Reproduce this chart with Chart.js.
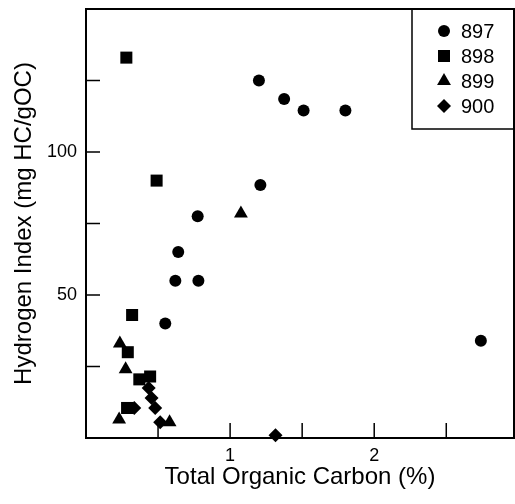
<!DOCTYPE html>
<html>
<head>
<meta charset="utf-8">
<script src="https://cdn.jsdelivr.net/npm/chart.js@4"></script>
<style>
  html, body { margin: 0; padding: 0; background: #fff; }
  #wrap { width: 515px; height: 504px; }
</style>
</head>
<body>
<div id="wrap"><canvas id="myChart" width="515" height="504"></canvas></div>
<script>
// Total Organic Carbon (%) and Hydrogen Index per site
const toc897 = [1.20, 1.375, 1.51, 1.80, 1.21, 0.775, 0.64, 0.62, 0.78, 0.55, 2.74]
const hi897 = [125, 118.5, 114.5, 114.5, 88.5, 77.5, 65, 55, 55, 40, 34]

const toc898 = [0.28, 0.49, 0.32, 0.29, 0.37, 0.445, 0.285]
const hi898 = [133, 90, 43, 30, 20.5, 21.5, 10.5]

const toc899 = [0.235, 0.275, 0.23, 0.58, 1.075]
const hi899 = [33, 24, 6.5, 5.5, 78.5]

const toc900 = [0.335, 0.435, 0.455, 0.48, 0.515, 1.315]
const hi900 = [10.5, 17.5, 14, 10.5, 5.5, 1]

const xTickLabels = [1, 2]
const yTickLabels = [50, 100]

const FONT = '"Liberation Sans", Arial, Helvetica, sans-serif'

function pts(xs, ys) {
  return xs.map((x, i) => ({ x: x, y: ys[i] }))
}

const data = {
  datasets: [
    { label: '897', data: pts(toc897, hi897), pointStyle: 'circle', pointRadius: 6 },
    { label: '898', data: pts(toc898, hi898), pointStyle: 'rect', pointRadius: 8.5 },
    { label: '899', data: pts(toc899, hi899), pointStyle: 'triangle', pointRadius: 8 },
    { label: '900', data: pts(toc900, hi900), pointStyle: 'rectRot', pointRadius: 7 },
  ].map(d => Object.assign(d, {
    backgroundColor: '#000',
    borderColor: '#000',
    borderWidth: 0,
    pointHoverRadius: d.pointRadius,
    clip: false,
  })),
}

// no extra room for edge labels, the frame sits where the padding says
function noPad(s) {
  s.paddingTop = 0
  s.paddingBottom = 0
  s.paddingLeft = 0
  s.paddingRight = 0
}

// inward tick marks + frame
const framePlugin = {
  id: 'frame',
  afterDatasetsDraw(chart) {
    const { ctx, chartArea: a, scales } = chart
    ctx.save()
    ctx.strokeStyle = '#000'
    ctx.lineWidth = 1.5
    ctx.beginPath()
    scales.x.ticks.forEach(t => {
      if (t.value <= 0) return
      const px = scales.x.getPixelForValue(t.value)
      ctx.moveTo(px, a.bottom)
      ctx.lineTo(px, a.bottom - 15)
    })
    scales.y.ticks.forEach(t => {
      if (t.value <= 0) return
      const py = scales.y.getPixelForValue(t.value)
      ctx.moveTo(a.left, py)
      ctx.lineTo(a.left + 14, py)
    })
    ctx.stroke()
    ctx.lineWidth = 2
    ctx.strokeRect(a.left, a.top, a.right - a.left, a.bottom - a.top)
    ctx.restore()
  },
}

// boxed legend in the top right corner
const legendBox = {
  id: 'legendBox',
  afterDraw(chart) {
    const { ctx, chartArea: a } = chart
    const left = a.right - 102
    const bottom = a.top + 120
    ctx.save()
    ctx.fillStyle = '#fff'
    ctx.fillRect(left, a.top, a.right - left, bottom - a.top)
    ctx.strokeStyle = '#000'
    ctx.lineWidth = 1.5
    ctx.strokeRect(left, a.top, a.right - left, bottom - a.top)
    ctx.lineWidth = 2
    ctx.beginPath()
    ctx.moveTo(left, a.top)
    ctx.lineTo(a.right, a.top)
    ctx.lineTo(a.right, bottom)
    ctx.stroke()
    ctx.font = '20px ' + FONT
    ctx.textBaseline = 'middle'
    ctx.textAlign = 'left'
    chart.data.datasets.forEach((ds, i) => {
      const y = a.top + 22 + i * 25
      ctx.fillStyle = '#000'
      Chart.helpers.drawPoint(ctx, {
        pointStyle: ds.pointStyle,
        radius: ds.pointRadius,
        rotation: 0,
        borderWidth: 0,
      }, left + 32, y)
      ctx.fillText(ds.label, left + 49, y + 1)
    })
    ctx.restore()
  },
}

const ctx = document.getElementById('myChart').getContext('2d')
const myChart = new Chart(ctx, {
  type: 'scatter',
  data: data,
  plugins: [framePlugin, legendBox],
  options: {
    responsive: false,
    animation: false,
    layout: { autoPadding: false, padding: { left: 0, right: 1, top: 9, bottom: 0 } },
    plugins: {
      legend: { display: false },
      tooltip: { enabled: false },
    },
    scales: {
      x: {
        type: 'linear',
        min: 0,
        max: 2.97,
        afterBuildTicks: s => {
          s.ticks = s.ticks.filter(t => Math.abs(t.value * 2 - Math.round(t.value * 2)) < 1e-6)
        },
        afterFit: s => { s.height = 66; noPad(s) },
        grid: { display: false, drawTicks: false },
        border: { display: false },
        ticks: {
          stepSize: 0.5,
          padding: 7,
          color: '#000',
          font: { family: FONT, size: 18 },
          maxRotation: 0,
          autoSkip: false,
          callback: v => xTickLabels.includes(v) ? String(v) : '',
        },
        title: {
          display: true,
          text: 'Total Organic Carbon (%)',
          color: '#000',
          font: { family: FONT, size: 24 },
          padding: { top: 0, bottom: 12 },
        },
      },
      y: {
        type: 'linear',
        min: 0,
        max: 150,
        afterFit: s => { s.width = 86; noPad(s) },
        grid: { display: false, drawTicks: false },
        border: { display: false },
        ticks: {
          stepSize: 25,
          padding: 9,
          color: '#000',
          font: { family: FONT, size: 18 },
          autoSkip: false,
          callback: v => yTickLabels.includes(v) ? String(v) : '',
        },
        title: {
          display: true,
          text: 'Hydrogen Index (mg HC/gOC)',
          color: '#000',
          font: { family: FONT, size: 24 },
          padding: { top: 10, bottom: 0 },
        },
      },
    },
  },
})
</script>
</body>
</html>
